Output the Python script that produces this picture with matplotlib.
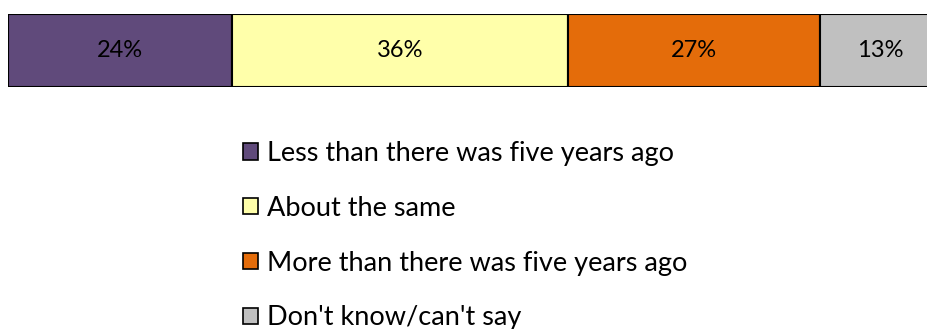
import matplotlib.pyplot as plt
from matplotlib.patches import Patch

categories = ["Less than there was five years ago", "About the same",
              "More than there was five years ago", "Don't know/can't say"]
values = [24, 36, 27, 13]
colors = ["#604A7B", "#FFFFAA", "#E46C0A", "#C0C0C0"]

plt.rcParams["font.family"] = ["Lato", "DejaVu Sans"]

fig = plt.figure(figsize=(9.28, 3.29), dpi=100)
ax = fig.add_axes([8 / 928, 1 - 87 / 329, 933 / 928, 73 / 329])

left = 0
for cat, val, col in zip(categories, values, colors):
    ax.barh(0, val, left=left, height=1.0, color=col, edgecolor="black",
            linewidth=1.5, label=cat)
    ax.text(left + val / 2, 0, f"{val}%", ha="center", va="center",
            fontsize=17, color="black")
    left += val

ax.set_xlim(0, 100)
ax.set_ylim(-0.5, 0.5)
ax.axis("off")

handles = [Patch(facecolor=c, edgecolor="black", linewidth=1.2) for c in colors]
fig.legend(handles, categories, loc="upper left",
           bbox_to_anchor=(243 / 928, 1 - 141 / 329), frameon=False,
           fontsize=19.5, handlelength=0.55, handleheight=0.55,
           handletextpad=0.35, labelspacing=1.1, borderpad=0,
           borderaxespad=0)

fig.savefig("out.png", dpi=100)
